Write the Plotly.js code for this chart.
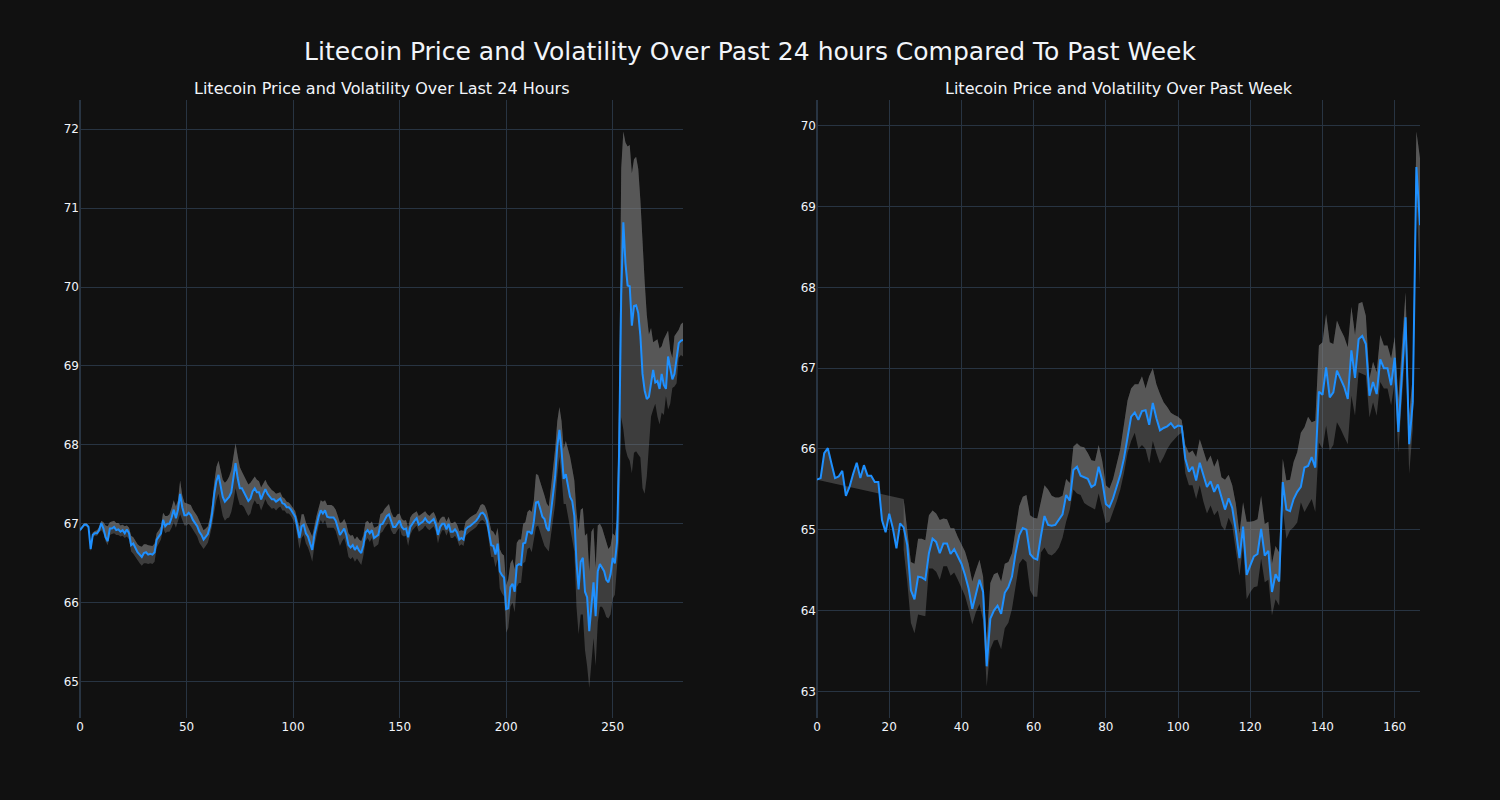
<!DOCTYPE html>
<html>
<head>
<meta charset="utf-8">
<script src="https://cdn.plot.ly/plotly-3.0.1.min.js"></script>
<style>
html, body { margin:0; padding:0; background:#111111; }
#chart { width:1500px; height:800px; }
</style>
</head>
<body>
<div id="chart"></div>
<script>
// ---------- Last 24 hours (left panel) ----------
const dayPrice = [
66.92,66.96,66.99,66.99,66.96,66.68,66.86,66.88,66.88,66.92,
67.01,66.94,66.83,66.78,66.94,66.94,66.96,66.92,66.93,66.90,
66.92,66.88,66.93,66.88,66.73,66.75,66.69,66.64,66.61,66.58,
66.63,66.64,66.61,66.62,66.61,66.64,66.80,66.84,66.88,67.05,
66.97,67.00,67.00,67.08,67.18,67.07,67.18,67.38,67.21,67.11,
67.11,67.14,67.11,67.05,67.01,66.97,66.90,66.86,66.80,66.84,
66.87,66.97,67.13,67.38,67.54,67.62,67.45,67.34,67.28,67.31,
67.34,67.40,67.56,67.77,67.58,67.45,67.45,67.40,67.34,67.29,
67.32,67.41,67.45,67.40,67.40,67.31,67.38,67.44,67.38,67.34,
67.31,67.31,67.28,67.30,67.32,67.26,67.25,67.21,67.21,67.18,
67.13,67.09,66.96,66.82,66.97,66.99,66.88,66.84,66.75,66.67,
66.86,66.98,67.09,67.17,67.13,67.17,67.09,67.08,67.08,67.08,
67.04,66.94,66.86,66.90,66.94,66.86,66.73,66.70,66.73,66.67,
66.71,66.66,66.63,66.73,66.89,66.92,66.88,66.92,66.82,66.84,
66.86,66.99,67.00,67.05,67.10,67.12,67.03,66.96,66.96,67.01,
67.04,66.96,66.93,66.94,66.83,66.96,67.01,67.04,67.07,66.99,
67.01,67.03,67.07,67.03,67.01,67.04,67.06,66.99,66.86,66.96,
67.00,67.00,66.93,67.00,66.90,66.90,66.93,66.89,66.80,66.82,
66.80,66.93,66.96,66.97,66.99,67.01,67.04,67.08,67.13,67.14,
67.11,67.04,66.90,66.73,66.72,66.61,66.75,66.40,66.35,66.32,
65.92,65.93,66.20,66.24,66.14,66.47,66.49,66.48,66.75,66.76,
66.90,66.90,66.87,67.03,67.27,67.28,67.19,67.09,67.06,66.95,
66.91,67.17,67.38,67.60,67.98,68.19,67.93,67.57,67.63,67.48,
67.34,67.29,67.10,66.52,66.17,66.52,66.57,66.14,66.07,65.64,
66.00,66.26,65.83,66.40,66.49,66.45,66.40,66.29,66.26,66.36,
66.57,66.50,66.76,67.90,69.90,70.82,70.30,70.02,70.01,69.51,
69.76,69.77,69.67,69.38,68.90,68.69,68.58,68.61,68.76,68.95,
68.79,68.81,68.71,68.90,68.76,68.71,69.12,68.95,68.83,68.90,
69.12,69.29,69.32,69.33
];
const dayUpper = [
66.94,66.98,67.01,67.01,66.98,66.71,66.89,66.91,66.92,66.96,
67.04,67.02,66.98,66.97,67.02,67.03,67.04,67.01,67.01,66.98,
66.99,66.97,66.98,66.95,66.85,66.83,66.78,66.74,66.72,66.71,
66.74,66.74,66.73,66.72,66.72,66.75,66.88,66.92,66.97,67.14,
67.10,67.10,67.12,67.20,67.30,67.22,67.30,67.55,67.36,67.27,
67.26,67.26,67.24,67.18,67.14,67.10,67.04,66.98,66.92,66.94,
66.97,67.08,67.26,67.52,67.72,67.80,67.66,67.56,67.52,67.55,
67.60,67.68,67.85,68.02,67.86,67.72,67.66,67.60,67.54,67.50,
67.52,67.57,67.60,67.56,67.54,67.46,67.52,67.56,67.50,67.46,
67.43,67.41,67.38,67.39,67.40,67.34,67.32,67.28,67.27,67.24,
67.20,67.16,67.06,66.96,67.12,67.12,67.02,66.97,66.90,66.84,
66.98,67.10,67.20,67.30,67.28,67.30,67.24,67.24,67.24,67.22,
67.18,67.10,67.01,67.02,67.06,67.00,66.88,66.85,66.86,66.80,
66.84,66.80,66.78,66.86,67.02,67.04,67.00,67.03,66.95,66.96,
66.98,67.12,67.14,67.19,67.22,67.25,67.15,67.09,67.08,67.12,
67.13,67.06,67.04,67.05,66.95,67.08,67.12,67.14,67.16,67.10,
67.12,67.13,67.16,67.12,67.10,67.13,67.15,67.09,67.00,67.06,
67.09,67.09,67.03,67.09,67.01,67.01,67.03,66.99,66.91,66.92,
66.91,67.03,67.06,67.08,67.10,67.12,67.13,67.18,67.24,67.25,
67.23,67.16,67.05,66.92,66.90,66.85,66.95,66.68,66.62,66.60,
66.22,66.30,66.50,66.55,66.42,66.76,66.80,66.80,67.00,67.02,
67.15,67.18,67.15,67.30,67.63,67.62,67.53,67.45,67.36,67.26,
67.22,67.45,67.70,67.95,68.30,68.48,68.30,67.95,68.05,67.95,
67.85,67.70,67.55,67.15,66.92,67.18,67.20,66.85,66.88,66.40,
66.90,66.95,66.45,66.98,67.00,66.95,66.86,66.76,66.68,66.72,
66.88,66.85,67.05,68.50,71.50,71.97,71.83,71.78,71.80,71.44,
71.62,71.65,71.50,71.10,70.55,70.07,69.65,69.40,69.48,69.30,
69.32,69.34,69.22,69.25,69.34,69.40,69.45,69.20,69.10,69.38,
69.42,69.46,69.53,69.55
];
const dayLower = [
66.90,66.94,66.97,66.97,66.94,66.65,66.83,66.85,66.85,66.89,
66.92,66.88,66.78,66.73,66.86,66.87,66.88,66.86,66.86,66.84,
66.85,66.82,66.84,66.80,66.65,66.62,66.58,66.53,66.50,66.47,
66.50,66.50,66.49,66.50,66.49,66.52,66.70,66.75,66.80,66.95,
66.88,66.90,66.90,66.95,67.02,66.95,67.05,67.12,67.05,66.98,
66.98,67.00,66.97,66.92,66.88,66.84,66.76,66.72,66.68,66.72,
66.76,66.86,66.98,67.15,67.30,67.38,67.22,67.10,67.04,67.07,
67.08,67.15,67.28,67.45,67.33,67.24,67.24,67.21,67.15,67.10,
67.13,67.24,67.30,67.25,67.25,67.17,67.24,67.31,67.25,67.22,
67.19,67.20,67.17,67.20,67.22,67.17,67.17,67.13,67.13,67.10,
67.05,67.00,66.84,66.68,66.82,66.86,66.75,66.70,66.62,66.52,
66.72,66.85,66.98,67.05,67.00,67.05,66.95,66.95,66.95,66.95,
66.91,66.80,66.72,66.78,66.82,66.72,66.58,66.55,66.58,66.52,
66.56,66.52,66.48,66.60,66.78,66.82,66.77,66.82,66.70,66.72,
66.74,66.88,66.90,66.95,66.99,67.02,66.92,66.87,66.87,66.92,
66.95,66.86,66.84,66.85,66.72,66.86,66.92,66.95,66.98,66.90,
66.92,66.94,66.98,66.94,66.92,66.95,66.97,66.90,66.75,66.86,
66.92,66.92,66.85,66.92,66.82,66.82,66.85,66.80,66.72,66.74,
66.72,66.85,66.88,66.90,66.92,66.94,66.96,67.00,67.04,67.05,
67.02,66.95,66.78,66.58,66.58,66.45,66.55,66.18,66.12,66.08,
65.62,65.68,65.95,66.00,65.88,66.20,66.25,66.25,66.50,66.52,
66.68,66.70,66.64,66.80,66.96,66.98,66.88,66.80,66.72,66.68,
66.65,66.85,67.05,67.25,67.60,67.85,67.60,67.25,67.25,67.10,
66.95,66.85,66.65,65.95,65.60,65.85,65.85,65.40,65.20,64.92,
65.30,65.55,65.20,65.75,65.95,65.95,65.90,65.82,65.80,65.85,
66.05,66.10,66.45,66.80,68.35,68.20,67.95,67.85,67.80,67.64,
67.90,67.92,67.88,67.84,67.45,67.38,67.60,67.95,68.36,68.45,
68.52,68.36,68.26,68.41,68.38,68.62,68.45,68.52,68.72,68.74,
68.78,69.10,69.14,69.12
];

// ---------- Past week (right panel) ----------
const weekPrice = [
65.62,65.64,65.95,66.01,65.82,65.64,65.66,65.73,65.42,65.53,
65.69,65.83,65.64,65.80,65.67,65.67,65.59,65.59,65.12,64.97,
65.20,65.02,64.77,65.08,65.03,64.81,64.25,64.14,64.42,64.41,
64.38,64.71,64.89,64.85,64.71,64.83,64.83,64.70,64.76,64.67,
64.58,64.44,64.27,64.02,64.19,64.38,64.23,63.31,63.90,64.00,
64.06,63.96,64.22,64.29,64.42,64.71,64.93,65.02,65.00,64.70,
64.65,64.63,64.92,65.17,65.06,65.05,65.06,65.12,65.19,65.43,
65.36,65.74,65.78,65.67,65.65,65.63,65.53,65.56,65.78,65.61,
65.32,65.28,65.39,65.53,65.68,65.88,66.15,66.40,66.45,66.36,
66.47,66.48,66.30,66.57,66.38,66.23,66.26,66.28,66.32,66.26,
66.29,66.28,65.88,65.72,65.78,65.61,65.83,65.67,65.53,65.60,
65.47,65.56,65.41,65.25,65.39,65.27,64.99,64.65,65.04,64.44,
64.56,64.67,64.70,65.01,64.68,64.74,64.23,64.45,64.36,65.59,
65.25,65.23,65.38,65.47,65.53,65.77,65.79,65.90,65.77,66.71,
66.67,67.01,66.64,66.70,66.97,66.87,66.77,66.62,67.22,66.88,
67.36,67.40,67.30,66.66,66.83,66.68,67.11,67.00,67.00,66.79,
67.13,66.21,66.95,67.63,66.06,66.58,69.49,68.77
];
const weekUpper = [
null,null,null,null,null,null,null,null,null,null,
null,null,null,null,null,null,null,null,null,null,
null,null,null,null,65.38,65.00,64.60,64.58,64.89,64.89,
64.87,65.18,65.24,65.20,65.12,65.14,65.13,65.02,65.02,64.91,
64.81,64.73,64.58,64.36,64.50,64.63,64.42,63.60,64.34,64.45,
64.47,64.36,64.58,64.60,64.71,65.00,65.29,65.41,65.43,65.18,
65.15,65.14,65.35,65.55,65.50,65.42,65.40,65.40,65.42,65.63,
65.58,66.03,66.07,66.03,66.02,65.95,65.86,65.85,66.05,65.85,
65.55,65.51,65.63,65.80,66.00,66.30,66.60,66.75,66.80,66.80,
66.90,66.75,66.90,67.00,66.80,66.68,66.58,66.52,66.45,66.42,
66.40,66.36,66.05,65.95,65.98,65.90,66.12,65.98,65.84,65.92,
65.78,65.88,65.65,65.62,65.68,65.55,65.32,64.95,65.34,65.10,
65.10,65.11,65.13,65.42,65.07,65.10,64.58,64.80,64.72,65.88,
65.61,65.62,65.84,65.96,66.20,66.27,66.40,66.33,66.35,67.28,
67.32,67.67,67.32,67.30,67.59,67.48,67.39,67.26,67.76,67.41,
67.80,67.82,67.65,66.87,67.08,66.95,67.41,67.28,67.28,67.12,
67.39,66.62,67.30,67.94,66.41,66.91,69.93,69.60
];
const weekLower = [
null,null,null,null,null,null,null,null,null,null,
null,null,null,null,null,null,null,null,null,null,
null,null,null,null,64.75,64.35,63.85,63.72,63.95,63.94,
63.93,64.52,64.52,64.48,64.38,64.55,64.55,64.43,64.47,64.38,
64.28,64.18,64.02,63.83,63.98,64.08,63.88,63.06,63.52,63.63,
63.64,63.52,63.78,63.85,64.02,64.30,64.58,64.64,64.60,64.25,
64.17,64.17,64.72,64.78,64.70,64.68,64.72,64.78,64.90,65.10,
65.25,65.50,65.45,65.43,65.33,65.30,65.28,65.25,65.45,65.27,
65.08,65.10,65.22,65.35,65.50,65.70,65.95,66.10,66.20,66.00,
66.05,66.00,65.82,66.10,65.95,65.82,65.90,66.00,66.07,66.12,
66.17,66.20,65.70,65.55,65.55,65.38,65.55,65.35,65.20,65.30,
65.18,65.24,65.05,64.99,65.15,65.05,64.76,64.43,64.80,64.14,
64.23,64.29,64.30,64.64,64.35,64.38,63.94,64.14,64.06,65.26,
64.89,64.99,65.03,65.09,65.34,65.22,65.30,65.38,65.22,66.08,
66.00,66.29,65.98,66.05,66.33,66.25,66.15,66.06,66.66,66.41,
66.95,66.93,66.91,66.39,66.58,66.41,66.83,66.75,66.75,66.54,
66.83,65.96,66.60,67.28,65.69,66.25,69.18,68.00
];

const titles = {
  main: 'Litecoin Price and Volatility Over Past 24 hours Compared To Past Week',
  left: 'Litecoin Price and Volatility Over Last 24 Hours',
  right: 'Litecoin Price and Volatility Over Past Week'
};

const FILL = 'rgba(128,128,128,0.4)';
const LINE = '#1E90FF';
const FONT = '"DejaVu Sans", Verdana, sans-serif';

function idx(n) { return Array.from({length: n}, (_, i) => i); }

function panel(price, upper, lower, xa, ya) {
  const x = idx(price.length);
  return [
    { type:'scatter', mode:'lines', x:x, y:price, xaxis:xa, yaxis:ya,
      line:{width:0, color:LINE}, hoverinfo:'skip', showlegend:false },
    { type:'scatter', mode:'lines', x:x, y:upper, xaxis:xa, yaxis:ya,
      fill:'tonexty', fillcolor:FILL, line:{width:0, color:'gray'},
      hoverinfo:'skip', showlegend:false },
    { type:'scatter', mode:'lines', x:x, y:lower, xaxis:xa, yaxis:ya,
      fill:'tonexty', fillcolor:FILL, line:{width:0, color:'gray'},
      hoverinfo:'skip', showlegend:false },
    { type:'scatter', mode:'lines', x:x, y:price, xaxis:xa, yaxis:ya,
      line:{width:2, color:LINE}, name:'Price', showlegend:false }
  ];
}

const data = [].concat(
  panel(dayPrice, dayUpper, dayLower, 'x', 'y'),
  panel(weekPrice, weekUpper, weekLower, 'x2', 'y2')
);

const axisStyle = {
  gridcolor:'#283442', zerolinecolor:'#283442', zerolinewidth:2,
  linecolor:'#506784', showline:false, ticks:'',
  tickfont:{family:FONT, size:12, color:'#f2f5fa'}
};

const layout = {
  width:1500, height:800,
  paper_bgcolor:'#111111', plot_bgcolor:'#111111',
  font:{family:FONT, color:'#f2f5fa', size:12},
  title:{text:titles.main, x:0.5, xanchor:'center', y:0.936, yref:'container', yanchor:'middle',
         font:{family:FONT, size:25, color:'#f2f5fa'}},
  margin:{l:80, r:80, t:100, b:82},
  showlegend:false,
  xaxis: Object.assign({}, axisStyle, {domain:[0,0.45], range:[0,283], dtick:50, anchor:'y', zeroline:true}),
  yaxis: Object.assign({}, axisStyle, {domain:[0,1], range:[64.54,72.37], dtick:1, anchor:'x', zeroline:false}),
  xaxis2: Object.assign({}, axisStyle, {domain:[0.55,1], range:[0,167], dtick:20, anchor:'y2', zeroline:true}),
  yaxis2: Object.assign({}, axisStyle, {domain:[0,1], range:[62.67,70.32], dtick:1, anchor:'x2', zeroline:false}),
  annotations:[
    {text:titles.left, x:0.225, y:1, xref:'paper', yref:'paper', xanchor:'center', yanchor:'bottom',
     showarrow:false, font:{family:FONT, size:16, color:'#f2f5fa'}},
    {text:titles.right, x:0.775, y:1, xref:'paper', yref:'paper', xanchor:'center', yanchor:'bottom',
     showarrow:false, font:{family:FONT, size:16, color:'#f2f5fa'}}
  ]
};

Plotly.newPlot('chart', data, layout, {displayModeBar:false, responsive:false});
</script>
</body>
</html>
